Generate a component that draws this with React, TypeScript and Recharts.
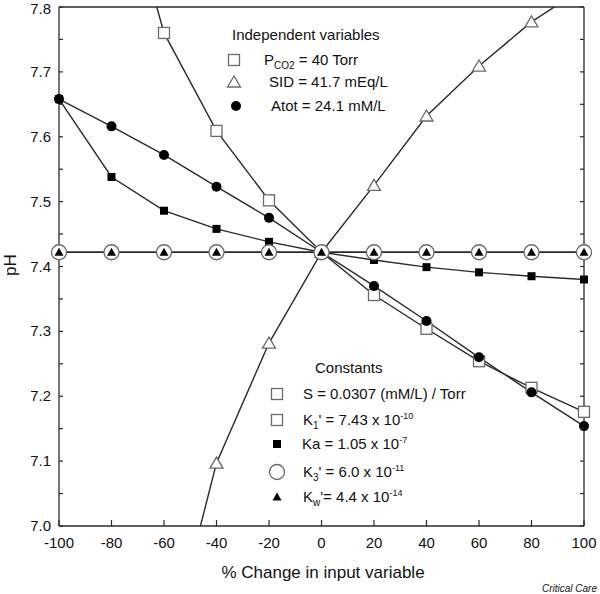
import React from 'react';
import { LineChart, Line, XAxis, YAxis, ReferenceLine } from 'recharts';

const changes = [-100, -80, -60, -40, -20, 0, 20, 40, 60, 80, 100];
const pco2 = [null, 8.05, 7.76, 7.609, 7.502, 7.422, 7.356, 7.304, 7.254, 7.213, 7.176];
const sid = [null, null, 6.78, 7.097, 7.282, 7.422, 7.525, 7.632, 7.709, 7.777, 7.83];
const atot = [7.658, 7.616, 7.572, 7.523, 7.475, 7.422, 7.37, 7.316, 7.26, 7.206, 7.154];
const ka = [7.658, 7.538, 7.486, 7.458, 7.438, 7.422, 7.41, 7.399, 7.391, 7.385, 7.38];
const k3 = [7.422, 7.422, 7.422, 7.422, 7.422, 7.422, 7.422, 7.422, 7.422, 7.422, 7.422];
const kw = [7.422, 7.422, 7.422, 7.422, 7.422, 7.422, 7.422, 7.422, 7.422, 7.422, 7.422];

const xTicks = [-100, -80, -60, -40, -20, 0, 20, 40, 60, 80, 100];
const yTicks = [7.0, 7.05, 7.1, 7.15, 7.2, 7.25, 7.3, 7.35, 7.4, 7.45, 7.5, 7.55, 7.6, 7.65, 7.7, 7.75, 7.8];

const data = changes.map((x, i) => ({
  x,
  pco2: pco2[i],
  sid: sid[i],
  atot: atot[i],
  ka: ka[i],
  k3: k3[i],
  kw: kw[i],
}));

const FONT = '"Liberation Sans", Arial, sans-serif';
const LINE = '#2a2a2a';
const GREY = '#6a6a6a';
const INK = '#111';

// marker shapes, used for the series and for the in-plot legends
const OpenSquare = ({ cx, cy }: any) => (
  <rect x={cx - 5.5} y={cy - 5.5} width={11} height={11} fill="#fff" stroke={GREY} strokeWidth={1.3} />
);
const FilledSquare = ({ cx, cy }: any) => (
  <rect x={cx - 4} y={cy - 4} width={8} height={8} fill="#000" />
);
const FilledCircle = ({ cx, cy }: any) => <circle cx={cx} cy={cy} r={5} fill="#000" />;
const OpenCircle = ({ cx, cy }: any) => (
  <circle cx={cx} cy={cy} r={7.5} fill="#fff" stroke={GREY} strokeWidth={1.3} />
);
const OpenTriangle = ({ cx, cy }: any) => (
  <polygon
    points={`${cx},${cy - 6} ${cx - 6.5},${cy + 5} ${cx + 6.5},${cy + 5}`}
    fill="#fff"
    stroke={GREY}
    strokeWidth={1.3}
  />
);
const FilledTriangle = ({ cx, cy }: any) => (
  <polygon points={`${cx},${cy - 4.5} ${cx - 4.5},${cy + 3.5} ${cx + 4.5},${cy + 3.5}`} fill="#000" />
);

const dotOf = (Shape: any) => (p: any) => {
  if (p.value == null || p.cy == null) return <g key={p.key} />;
  return <Shape key={p.key} cx={p.cx} cy={p.cy} />;
};

const LeftTick = ({ x, y, payload }: any) => {
  const major = Math.abs(payload.value * 10 - Math.round(payload.value * 10)) < 1e-6;
  // keep the top label inside the picture
  const ty = Math.max(y + 5, 14);
  return (
    <g>
      <line x1={x} x2={x + 4} y1={y} y2={y} stroke={LINE} strokeWidth={1.2} />
      {major && (
        <text x={x - 8} y={ty} textAnchor="end" fontSize={15} fontFamily={FONT} fill={INK}>
          {payload.value.toFixed(1)}
        </text>
      )}
    </g>
  );
};

const RightTick = ({ x, y }: any) => (
  <line x1={x} x2={x - 4} y1={y} y2={y} stroke={LINE} strokeWidth={1.2} />
);

const BottomTick = ({ x, y, payload }: any) => (
  <g>
    <line x1={x} x2={x} y1={y} y2={y - 6} stroke={LINE} strokeWidth={1.2} />
    <text x={x} y={y + 22} textAnchor="middle" fontSize={15} fontFamily={FONT} fill={INK}>
      {payload.value}
    </text>
  </g>
);

const Sub = ({ children }: any) => (
  <tspan fontSize={10} dy={4}>
    {children}
  </tspan>
);

const Legends = () => (
  <g fontFamily={FONT} fill={INK} fontSize={15}>
    <text x={232} y={40}>Independent variables</text>
    <OpenSquare cx={234} cy={60} />
    <text x={264} y={65}>
      P<Sub>CO2</Sub>
      <tspan dy={-4}> = 40 Torr</tspan>
    </text>
    <OpenTriangle cx={234} cy={82} />
    <text x={269} y={87}>SID = 41.7 mEq/L</text>
    <FilledCircle cx={236} cy={106} />
    <text x={271} y={111}>Atot = 24.1 mM/L</text>

    <text x={315} y={373}>Constants</text>
    <OpenSquare cx={277} cy={394} />
    <text x={303} y={399}>S = 0.0307 (mM/L) / Torr</text>
    <OpenSquare cx={277} cy={420} />
    <text x={303} y={425}>
      K<Sub>1</Sub>
      <tspan dy={-4}>' = 7.43 x 10</tspan>
      <tspan fontSize={9} dy={-6}>-10</tspan>
    </text>
    <FilledSquare cx={277} cy={444} />
    <text x={302} y={449}>
      Ka = 1.05 x 10
      <tspan fontSize={9} dy={-6}>-7</tspan>
    </text>
    <OpenCircle cx={277} cy={472} />
    <text x={303} y={477}>
      K<Sub>3</Sub>
      <tspan dy={-4}>' = 6.0 x 10</tspan>
      <tspan fontSize={9} dy={-6}>-11</tspan>
    </text>
    <FilledTriangle cx={277} cy={497} />
    <text x={303} y={502}>
      K<Sub>w</Sub>
      <tspan dy={-4}>'= 4.4 x 10</tspan>
      <tspan fontSize={9} dy={-6}>-14</tspan>
    </text>

    <text x={12} y={265} fontSize={17} textAnchor="middle" transform="rotate(-90 12 265)" dominantBaseline="middle">
      pH
    </text>
    <text x={323} y={578} fontSize={17} textAnchor="middle">
      % Change in input variable
    </text>
    <text x={597} y={592} fontSize={10} fontStyle="italic" textAnchor="end">
      Critical Care
    </text>
  </g>
);

export default function App() {
  return (
    <LineChart
      width={600}
      height={594}
      data={data}
      margin={{ top: 7, right: 15, left: 9, bottom: 18 }}
      style={{ position: 'absolute', left: 0, top: 0 }}
    >
      <XAxis
        type="number"
        dataKey="x"
        domain={[-100, 100]}
        ticks={xTicks}
        height={50}
        tickSize={0}
        tickMargin={0}
        tick={<BottomTick />}
        axisLine={{ stroke: LINE, strokeWidth: 1.3 }}
        tickLine={false}
      />
      <YAxis
        yAxisId="l"
        type="number"
        domain={[7.0, 7.8]}
        ticks={yTicks}
        allowDataOverflow
        width={50}
        tickSize={0}
        tickMargin={0}
        tick={<LeftTick />}
        axisLine={{ stroke: LINE, strokeWidth: 1.3 }}
        tickLine={false}
        interval={0}
      />
      <YAxis
        yAxisId="r"
        orientation="right"
        type="number"
        domain={[7.0, 7.8]}
        ticks={yTicks}
        allowDataOverflow
        width={1}
        tickSize={0}
        tickMargin={0}
        tick={<RightTick />}
        axisLine={{ stroke: LINE, strokeWidth: 1.3 }}
        tickLine={false}
        interval={0}
      />
      <ReferenceLine yAxisId="l" y={7.8} stroke={LINE} strokeWidth={1.3} />
      <Line yAxisId="l" dataKey="pco2" stroke={LINE} strokeWidth={1.4} dot={dotOf(OpenSquare)} isAnimationActive={false} />
      <Line yAxisId="l" dataKey="sid" stroke={LINE} strokeWidth={1.4} dot={dotOf(OpenTriangle)} isAnimationActive={false} />
      <Line yAxisId="l" dataKey="atot" stroke={LINE} strokeWidth={1.4} dot={dotOf(FilledCircle)} isAnimationActive={false} />
      <Line yAxisId="l" dataKey="ka" stroke={LINE} strokeWidth={1.4} dot={dotOf(FilledSquare)} isAnimationActive={false} />
      <Line yAxisId="l" dataKey="k3" stroke={LINE} strokeWidth={1.4} dot={dotOf(OpenCircle)} isAnimationActive={false} />
      <Line yAxisId="l" dataKey="kw" stroke={LINE} strokeWidth={1.4} dot={dotOf(FilledTriangle)} isAnimationActive={false} />
      <Legends />
    </LineChart>
  );
}
